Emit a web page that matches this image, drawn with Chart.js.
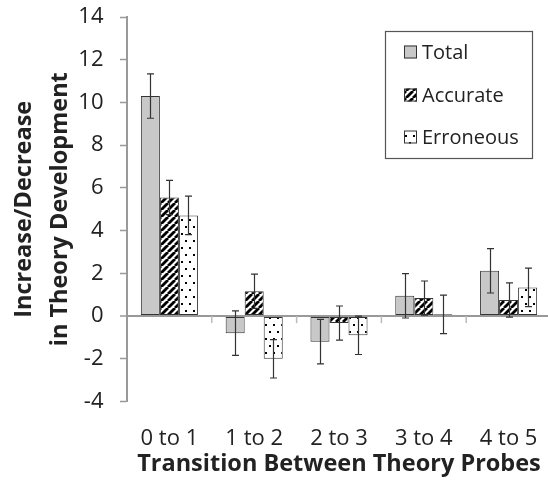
<!DOCTYPE html>
<html><head><meta charset="utf-8">
<script src="https://cdn.jsdelivr.net/npm/chart.js@4/dist/chart.umd.min.js"></script>
<style>html,body{margin:0;padding:0;overflow:hidden;background:#fff;width:548px;height:486px}
#wrap{position:absolute;left:0;top:0;width:551px;height:486px}</style>
</head><body><div id="wrap"><canvas id="c" width="551" height="486"></canvas></div>
<script>
const categories = ["0 to 1", "1 to 2", "2 to 3", "3 to 4", "4 to 5"];
const seriesNames = ["Total", "Accurate", "Erroneous"];
const totalValues = [10.3, -0.8, -1.2, 0.95, 2.12];
const accurateValues = [5.55, 1.16, -0.33, 0.84, 0.75];
const erroneousValues = [4.71, -2.0, -0.9, 0.08, 1.34];
const totalErrors = [1.04, 1.04, 1.04, 1.04, 1.04];
const accurateErrors = [0.8, 0.8, 0.8, 0.8, 0.8];
const erroneousErrors = [0.9, 0.9, 0.9, 0.9, 0.9];
const yTicks = [-4, -2, 0, 2, 4, 6, 8, 10, 12, 14];

const FONT = "'Open Sans', 'Noto Sans', sans-serif";

function stripePattern() {
  const s = 7, c = document.createElement('canvas');
  c.width = s; c.height = s;
  const g = c.getContext('2d');
  g.fillStyle = '#fff'; g.fillRect(0, 0, s, s);
  g.strokeStyle = '#000'; g.lineWidth = 2.8;
  for (const o of [-s, 0, s]) {
    g.beginPath(); g.moveTo(o, s); g.lineTo(o + s, 0); g.stroke();
  }
  return g.createPattern(c, 'repeat');
}
function dotPattern() {
  const w = 8, h = 14, c = document.createElement('canvas');
  c.width = w; c.height = h;
  const g = c.getContext('2d');
  g.fillStyle = '#fff'; g.fillRect(0, 0, w, h);
  g.fillStyle = '#000';
  g.fillRect(1, 2, 2, 2);
  g.fillRect(5, 9, 2, 2);
  return g.createPattern(c, 'repeat');
}
const fills = ['#c8c8c8', stripePattern(), dotPattern()];
const errs = [totalErrors, accurateErrors, erroneousErrors];

const errorBars = {
  id: 'errorBars',
  afterDatasetsDraw(chart) {
    const ctx = chart.ctx, y = chart.scales.y;
    ctx.save();
    ctx.strokeStyle = '#333'; ctx.lineWidth = 1.2;
    chart.data.datasets.forEach((ds, di) => {
      const meta = chart.getDatasetMeta(di);
      meta.data.forEach((bar, i) => {
        const v = ds.data[i], e = errs[di][i];
        const yt = y.getPixelForValue(v + e), yb = y.getPixelForValue(v - e);
        const x = Math.round(bar.x) + 0.5;
        ctx.beginPath();
        ctx.moveTo(x, yt); ctx.lineTo(x, yb);
        ctx.moveTo(x - 3.5, yt); ctx.lineTo(x + 3.5, yt);
        ctx.moveTo(x - 3.5, yb); ctx.lineTo(x + 3.5, yb);
        ctx.stroke();
      });
    });
    ctx.restore();
  }
};
const catTicks = {
  id: 'catTicks',
  beforeDatasetsDraw(chart) {
    const ctx = chart.ctx, x = chart.scales.x, y0 = chart.scales.y.getPixelForValue(0);
    ctx.save();
    ctx.strokeStyle = '#bbb'; ctx.lineWidth = 1.5;
    for (let i = 1; i < categories.length; i++) {
      const px = (x.getPixelForTick(i - 1) + x.getPixelForTick(i)) / 2;
      ctx.beginPath(); ctx.moveTo(px, y0); ctx.lineTo(px, y0 + 7); ctx.stroke();
    }
    ctx.restore();
  }
};
const boxLegend = {
  id: 'boxLegend',
  afterDraw(chart) {
    const ctx = chart.ctx;
    ctx.save();
    ctx.strokeStyle = '#555'; ctx.lineWidth = 1.2;
    ctx.strokeRect(385.5, 31.5, 147, 127);
    const ys = [52, 95, 137];
    ctx.font = '20px ' + FONT;
    ctx.textBaseline = 'middle'; ctx.textAlign = 'left';
    chart.data.datasets.forEach((ds, i) => {
      ctx.fillStyle = ds.backgroundColor;
      ctx.fillRect(404, ys[i] - 6.5, 13, 13);
      ctx.strokeStyle = '#333'; ctx.lineWidth = 1;
      ctx.strokeRect(404.5, ys[i] - 6, 12, 12);
      ctx.fillStyle = '#222';
      ctx.fillText(ds.label, 422, ys[i] + 1);
    });
    ctx.restore();
  }
};

const datasets = [totalValues, accurateValues, erroneousValues].map((vals, i) => ({
  label: seriesNames[i],
  data: vals,
  backgroundColor: fills[i],
  borderColor: '#333',
  borderWidth: 1,
  borderSkipped: false,
  categoryPercentage: 0.673,
  barPercentage: 1.0
}));

new Chart(document.getElementById('c'), {
  type: 'bar',
  data: { labels: categories, datasets },
  plugins: [catTicks, errorBars, boxLegend],
  options: {
    responsive: false,
    animation: false,
    events: [],
    layout: { padding: { top: 0, left: 0, right: 0, bottom: 0 } },
    plugins: { legend: { display: false }, tooltip: { enabled: false } },
    scales: {
      x: {
        grid: { display: false },
        border: { display: false },
        ticks: { color: '#222', font: { family: FONT, size: 22 }, padding: 16, maxRotation: 0 },
        title: { display: true, text: 'Transition Between Theory Probes', color: '#222',
                 font: { family: FONT, size: 23.5, weight: 'bold' }, padding: { top: 0, bottom: 8 } },
        afterFit(s) { s.height = 84.5; s.paddingLeft = 0; s.paddingRight = 0; }
      },
      y: {
        min: -4, max: 14,
        afterBuildTicks(s) { s.ticks = yTicks.map(v => ({ value: v })); },
        ticks: { color: '#222', font: { family: FONT, size: 22 }, padding: 16.5 },
        grid: {
          color: c => (c.tick && c.tick.value === 0) ? '#999' : 'rgba(0,0,0,0)',
          lineWidth: c => (c.tick && c.tick.value === 0) ? 2 : 1,
          tickColor: '#999', tickLength: 7, tickWidth: 1.5
        },
        border: { color: '#999', width: 2 },
        title: { display: true, text: ['Increase/Decrease', 'in Theory Development'], color: '#222',
                 font: { family: FONT, size: 23.5, weight: 'bold', lineHeight: 1.5 }, padding: { top: 7, bottom: 0 } },
        afterFit(s) { s.width = 127; s.paddingTop = 17; s.paddingBottom = 0; }
      }
    }
  }
});
</script></body></html>
